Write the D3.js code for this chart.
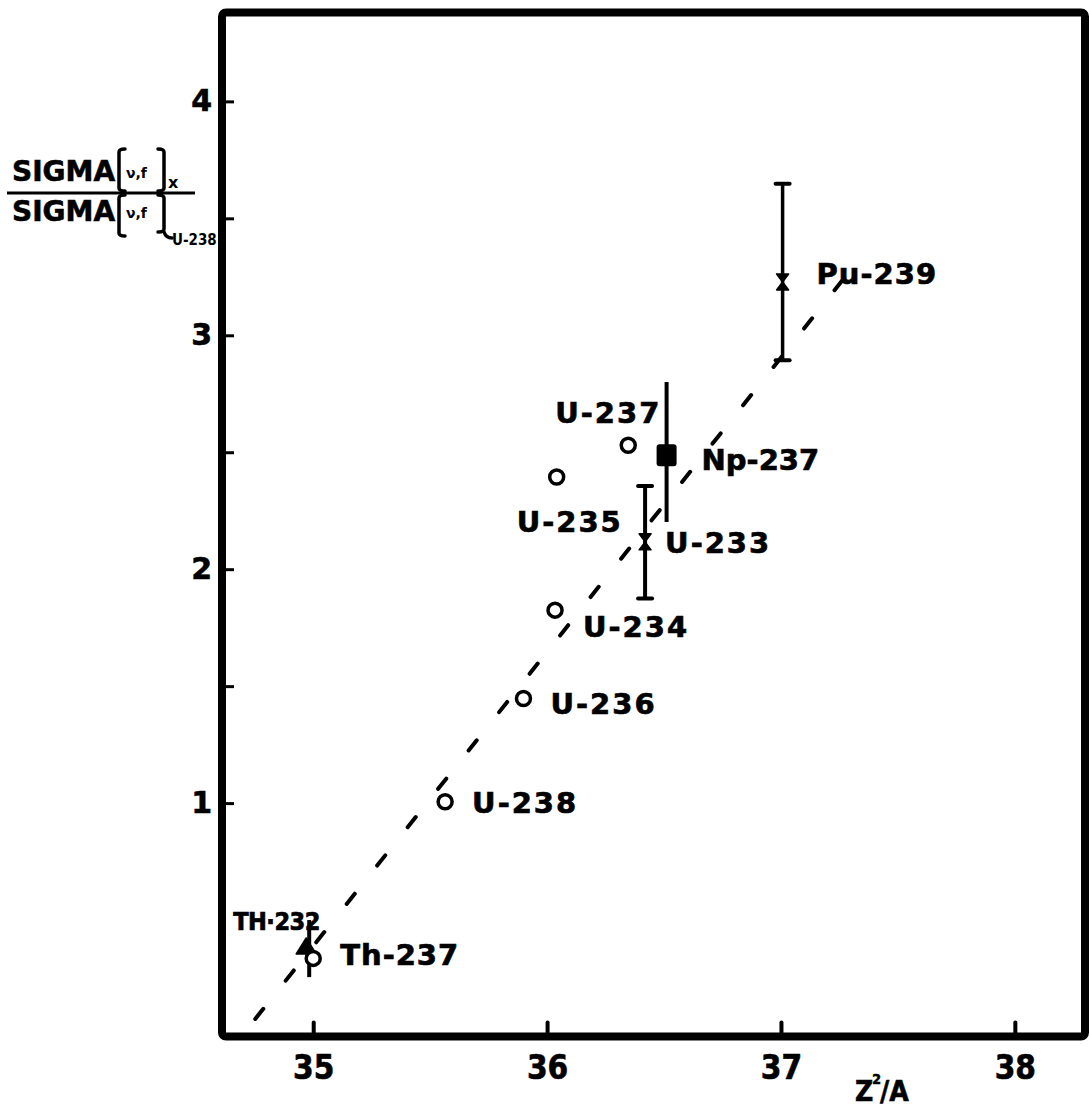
<!DOCTYPE html>
<html>
<head>
<meta charset="utf-8">
<script src="https://cdn.jsdelivr.net/npm/d3@7"></script>
<style>
  html, body { margin: 0; background: #fff; }
  svg { display: block; }
</style>
</head>
<body>
<script>
// ---- data -------------------------------------------------------------
// nuclide labels as lettered on the plot
const nuclides      = ["TH·232", "Th-237", "U-238", "U-236", "U-234", "U-235", "U-237", "Np-237", "U-233", "Pu-239"];
// abscissa: Z^2/A
const zSquaredOverA = [34.97, 35.00, 35.564, 35.899, 36.034, 36.041, 36.347, 36.511, 36.419, 37.007];
// ordinate: SIGMA(ν,f)_X / SIGMA(ν,f)_U-238
const sigmaRatio    = [0.385, 0.336, 1.006, 1.447, 1.825, 2.394, 2.530, 2.487, 2.117, 3.228];
// error bar limits (null = no bar)
const errLow        = [0.256, null, null, null, null, null, null, 2.202, 1.875, 2.893];
const errHigh       = [0.500, null, null, null, null, null, null, 2.800, 2.356, 3.648];

// dashed trend line end points
const trendZ2A   = [34.752, 37.303];
const trendSigma = [0.077, 3.286];

// axis ticks
const xTicks      = [35, 36, 37, 38];
const yTicks      = [1, 1.5, 2, 2.5, 3, 3.5, 4];
const yTickLabels = [1, 2, 3, 4];

// ---- layout -----------------------------------------------------------
const W = 1089, H = 1112;
const PLOT = { left: 222, right: 1085, top: 12.5, bottom: 1036.5 };
const BOLD = "'DejaVu Sans', 'Liberation Sans', sans-serif";
const COND = "'DejaVu Sans Condensed', 'Liberation Sans Narrow', 'DejaVu Sans', sans-serif";

const svg = d3.select("body").append("svg")
  .attr("width", W).attr("height", H)
  .attr("viewBox", `0 0 ${W} ${H}`);

const x = d3.scaleLinear().domain([34.61, 38.30]).range([PLOT.left, PLOT.right]);
const y = d3.scaleLinear().domain([0, 4.38]).range([PLOT.bottom + 0.5, PLOT.top]);

// marker type per nuclide
const symbolFor = {
  "TH·232": "triangle", "Th-237": "circle", "U-238": "circle", "U-236": "circle",
  "U-234": "circle", "U-235": "circle", "U-237": "circle", "Np-237": "square",
  "U-233": "bowtie", "Pu-239": "bowtie"
};
// label placement relative to the marker (pixels)
const labelPlace = {
  "TH·232": { dx: -73, dy: -17, size: 25, family: COND, ls: -0.5 },
  "Th-237": { dx: 27,  dy: 7,   size: 29, family: BOLD, ls: 1 },
  "U-238":  { dx: 27,  dy: 11,  size: 29, family: BOLD, ls: 2 },
  "U-236":  { dx: 27,  dy: 15,  size: 29, family: BOLD, ls: 2 },
  "U-234":  { dx: 28,  dy: 27,  size: 29, family: BOLD, ls: 2 },
  "U-235":  { dx: -40, dy: 55,  size: 29, family: BOLD, ls: 2 },
  "U-237":  { dx: -73, dy: -22, size: 29, family: BOLD, ls: 2 },
  "Np-237": { dx: 35,  dy: 15,  size: 29, family: BOLD, ls: 0 },
  "U-233":  { dx: 20,  dy: 11,  size: 29, family: BOLD, ls: 2 },
  "Pu-239": { dx: 34,  dy: 2,   size: 29, family: BOLD, ls: 1 }
};

const points = nuclides.map((name, i) => ({
  name, z: zSquaredOverA[i], s: sigmaRatio[i], lo: errLow[i], hi: errHigh[i]
}));

// ---- y-axis title: SIGMA[ν,f]_X / SIGMA[ν,f]_U-238 ----------------------
const yTitle = svg.append("g").attr("class", "y-title").attr("fill", "#000");
const bracketPath = (x0, y0, y1, dir) => {
  // square bracket with softly rounded ends; dir = +1 opens right, -1 opens left
  const r = 3, w = 6 * dir;
  return `M${x0 + w},${y0} Q${x0},${y0} ${x0},${y0 + r} L${x0},${y1 - r} Q${x0},${y1} ${x0 + w},${y1}`;
};
yTitle.append("text").attr("x", 12).attr("y", 181)
  .attr("font-family", BOLD).attr("font-weight", "bold").attr("font-size", 28)
  .attr("stroke", "#000").attr("stroke-width", 0.6).text("SIGMA");
yTitle.append("text").attr("x", 12).attr("y", 221)
  .attr("font-family", BOLD).attr("font-weight", "bold").attr("font-size", 28)
  .attr("stroke", "#000").attr("stroke-width", 0.6).text("SIGMA");
yTitle.append("line").attr("x1", 7).attr("x2", 195).attr("y1", 193).attr("y2", 193)
  .attr("stroke", "#000").attr("stroke-width", 3);
const brackets = [
  bracketPath(119, 149, 191, 1), bracketPath(164, 149, 191, -1),
  bracketPath(119, 195, 236, 1), bracketPath(164, 195, 232, -1)
];
yTitle.selectAll("path.br").data(brackets).join("path").attr("class", "br")
  .attr("d", d => d).attr("fill", "none").attr("stroke", "#000")
  .attr("stroke-width", 3.5).attr("stroke-linecap", "round");
yTitle.append("path").attr("d", "M164,232 Q166,238 172,238")
  .attr("fill", "none").attr("stroke", "#000").attr("stroke-width", 3.5).attr("stroke-linecap", "round");
yTitle.append("text").attr("x", 126).attr("y", 178)
  .attr("font-family", BOLD).attr("font-weight", "bold").attr("font-size", 14).text("ν,f");
yTitle.append("text").attr("x", 126).attr("y", 218)
  .attr("font-family", BOLD).attr("font-weight", "bold").attr("font-size", 14).text("ν,f");
yTitle.append("text").attr("x", 168).attr("y", 188)
  .attr("font-family", BOLD).attr("font-weight", "bold").attr("font-size", 16).text("x");
yTitle.append("text").attr("x", 172).attr("y", 245)
  .attr("font-family", COND).attr("font-weight", "bold").attr("font-size", 15).text("U-238");

// ---- point labels ------------------------------------------------------
svg.append("g").attr("class", "labels")
  .selectAll("text").data(points).join("text")
  .attr("x", d => x(d.z) + labelPlace[d.name].dx)
  .attr("y", d => y(d.s) + labelPlace[d.name].dy)
  .attr("font-family", d => labelPlace[d.name].family)
  .attr("font-weight", "bold")
  .attr("font-size", d => labelPlace[d.name].size)
  .attr("letter-spacing", d => labelPlace[d.name].ls)
  .attr("fill", "#000").attr("stroke", "#000").attr("stroke-width", 0.7)
  .text(d => d.name);

// ---- dashed trend line -------------------------------------------------
const trend = trendZ2A.map((z, i) => [z, trendSigma[i]]);
svg.append("path")
  .datum(trend)
  .attr("d", d3.line().x(d => x(d[0])).y(d => y(d[1])))
  .attr("fill", "none").attr("stroke", "#000")
  .attr("stroke-width", 4).attr("stroke-linecap", "round")
  .attr("stroke-dasharray", "13 36");

// ---- error bars ----------------------------------------------------------
const withBars = points.filter(d => d.lo != null);
const bars = svg.append("g").attr("class", "error-bars");
bars.selectAll("line.bar").data(withBars).join("line").attr("class", "bar")
  .attr("x1", d => x(d.z) + (d.name === "TH·232" ? 3 : 0))
  .attr("x2", d => x(d.z) + (d.name === "TH·232" ? 3 : 0))
  .attr("y1", d => y(d.lo)).attr("y2", d => y(d.hi))
  .attr("stroke", "#000").attr("stroke-width", d => d.name === "Pu-239" ? 3.5 : 4);
const capped = withBars.filter(d => symbolFor[d.name] === "bowtie");
bars.selectAll("line.cap").data(capped.flatMap(d => [{ d, v: d.lo }, { d, v: d.hi }]))
  .join("line").attr("class", "cap")
  .attr("x1", c => x(c.d.z) - 7).attr("x2", c => x(c.d.z) + 7)
  .attr("y1", c => y(c.v)).attr("y2", c => y(c.v))
  .attr("stroke", "#000").attr("stroke-width", 4).attr("stroke-linecap", "round");

// ---- markers -------------------------------------------------------------
const marks = svg.append("g").attr("class", "markers");
marks.selectAll("g").data(points).join("g")
  .attr("transform", d => `translate(${x(d.z)},${y(d.s)})`)
  .each(function (d) {
    const g = d3.select(this);
    const kind = symbolFor[d.name];
    if (kind === "circle") {
      g.append("circle").attr("r", 7).attr("fill", "#fff")
        .attr("stroke", "#000").attr("stroke-width", 3.5);
    } else if (kind === "square") {
      g.append("rect").attr("x", -10).attr("y", -11).attr("width", 20).attr("height", 22)
        .attr("rx", 3).attr("fill", "#000");
    } else if (kind === "triangle") {
      g.append("path").attr("d", "M0,-9 L10,7 L-10,7 Z").attr("fill", "#000")
        .attr("stroke", "#000").attr("stroke-width", 1.5).attr("stroke-linejoin", "round");
    } else if (kind === "bowtie") {
      g.append("path").attr("d", "M-6,-8 L6,-8 L-6,8 L6,8 Z").attr("fill", "#000")
        .attr("stroke", "#000").attr("stroke-width", 1.5).attr("stroke-linejoin", "round");
    }
  });

// ---- axes ----------------------------------------------------------------
const xAxis = d3.axisBottom(x).tickValues(xTicks).tickSize(-14).tickPadding(19)
  .tickFormat(d3.format("d"));
svg.append("g").attr("class", "x-axis")
  .attr("transform", `translate(0,${PLOT.bottom})`)
  .call(xAxis)
  .call(a => a.select(".domain").remove())
  .call(a => a.selectAll(".tick line").attr("stroke", "#000").attr("stroke-width", 4)
    .attr("stroke-linecap", "round"))
  .call(a => a.selectAll(".tick text").attr("fill", "#000")
    .attr("font-family", COND).attr("font-weight", "bold").attr("font-size", 33)
    .attr("stroke", "#000").attr("stroke-width", 0.6));

const yAxis = d3.axisLeft(y).tickValues(yTicks).tickSize(-12).tickPadding(10)
  .tickFormat(d => yTickLabels.includes(d) ? d3.format("d")(d) : "");
svg.append("g").attr("class", "y-axis")
  .attr("transform", `translate(${PLOT.left},0)`)
  .call(yAxis)
  .call(a => a.select(".domain").remove())
  .call(a => a.selectAll(".tick line").attr("stroke", "#000").attr("stroke-width", 3))
  .call(a => a.selectAll(".tick text").attr("fill", "#000")
    .attr("font-family", BOLD).attr("font-weight", "bold").attr("font-size", 30)
    .attr("stroke", "#000").attr("stroke-width", 0.6));

// x-axis title Z²/A
const xt = svg.append("text").attr("x", 855).attr("y", 1101)
  .attr("font-family", COND).attr("font-weight", "bold").attr("font-size", 28)
  .attr("fill", "#000").attr("stroke", "#000").attr("stroke-width", 0.6);
xt.append("tspan").text("Z");
xt.append("tspan").attr("font-size", 14).attr("dy", -17).attr("dx", -1).text("2");
xt.append("tspan").attr("dy", 17).attr("dx", -1).text("/A");

// ---- frame ---------------------------------------------------------------
svg.append("rect")
  .attr("x", PLOT.left).attr("y", PLOT.top)
  .attr("width", PLOT.right - PLOT.left).attr("height", PLOT.bottom - PLOT.top)
  .attr("rx", 4).attr("fill", "none").attr("stroke", "#000").attr("stroke-width", 8);
</script>
</body>
</html>
